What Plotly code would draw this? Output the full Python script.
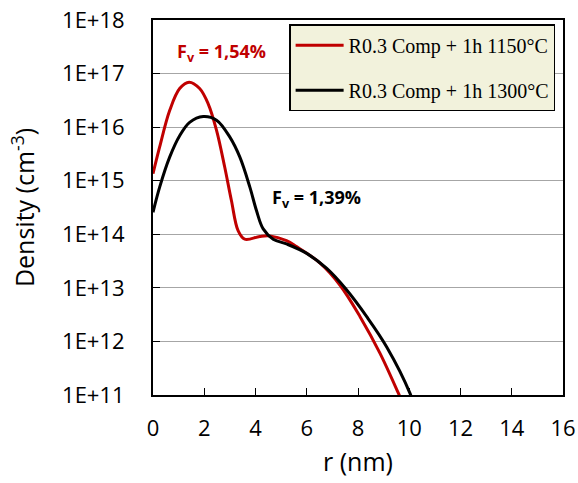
import plotly.graph_objects as go

# Data (r in nm, density in cm^-3)
r_1150 = [0, 0.26, 0.65, 1.04, 1.41, 1.82, 2.15, 2.48, 2.80, 3.06, 3.32, 3.58,
          4.17, 4.56, 5.21, 5.6, 6.52, 7.3, 8.08, 8.86, 9.58, 9.7]
d_1150 = [1.35e15, 4.27e15, 2.04e16, 5.25e16, 6.92e16, 5.25e16, 2.75e16, 8.7e15,
          1.78e15, 4.27e14, 1.17e14, 8.1e13, 9.1e13, 9.3e13, 7.6e13, 5.9e13,
          2.9e13, 1.12e13, 2.9e12, 6.0e11, 1.07e11, 7.9e10]

r_1300 = [0, 0.26, 0.65, 1.04, 1.43, 1.96, 2.48, 3.0, 3.39, 3.78, 4.04, 4.30,
          4.69, 5.21, 6.0, 6.78, 7.56, 8.34, 9.12, 10.03, 10.15]
d_1300 = [2.57e14, 7.6e14, 2.75e15, 6.9e15, 1.23e16, 1.58e16, 1.35e16, 6.5e15,
          2.75e15, 7.6e14, 2.75e14, 1.26e14, 8.1e13, 6.6e13, 4.4e13, 2.3e13,
          9.1e12, 2.9e12, 7.9e11, 1.07e11, 7.1e10]

names = ["R0.3 Comp + 1h 1150°C", "R0.3 Comp + 1h 1300°C"]
colors = ["#C00000", "#000000"]

y_tickvals = [1e11, 1e12, 1e13, 1e14, 1e15, 1e16, 1e17, 1e18]
y_ticktext = ["1E+11", "1E+12", "1E+13", "1E+14", "1E+15", "1E+16", "1E+17", "1E+18"]
x_tickvals = [0, 2, 4, 6, 8, 10, 12, 14, 16]

# annotation positions: x in nm, y as log10(density) (log axis convention)
labels = [("F<sub>v</sub> = 1,54%", 2.67, 17.40, "#C00000"),
          ("F<sub>v</sub> = 1,39%", 6.39, 14.66, "#000000")]

fig = go.Figure()
for i, (rr, dd) in enumerate([(r_1150, d_1150), (r_1300, d_1300)]):
    fig.add_trace(go.Scatter(x=rr, y=dd, mode="lines", name=names[i],
                             legendgroup=str(i),
                             line=dict(color=colors[i], width=3, shape="spline", smoothing=1.0)))

for text, x, y, c in labels:
    fig.add_annotation(x=x, y=y, text="<b>" + text + "</b>", showarrow=False,
                       font=dict(family="Open Sans", size=18, color=c))

fig.update_layout(
    width=578, height=483,
    margin=dict(l=153, r=15, t=20, b=88),
    paper_bgcolor="white", plot_bgcolor="white",
    font=dict(family="Open Sans", size=22, color="black"),
    showlegend=True,
    legend=dict(x=0.332, y=0.989, xanchor="left", yanchor="top",
                bgcolor="#F2F2DC", bordercolor="black", borderwidth=1.5,
                font=dict(family="Liberation Serif", size=20, color="black"),
                traceorder="grouped", tracegroupgap=16, itemwidth=48),
)
fig.update_xaxes(range=[0, 16], tickvals=x_tickvals, ticks="inside", ticklen=7,
                 tickcolor="black", tickwidth=1, showline=True, linecolor="black",
                 linewidth=1.5, mirror=True, showgrid=False, zeroline=False,
                 ticklabelstandoff=13, automargin=False,
                 title=dict(text="r (nm)", font=dict(size=25), standoff=12))
fig.update_yaxes(type="log", range=[11, 18], tickvals=y_tickvals, ticktext=y_ticktext,
                 ticks="inside", ticklen=7, tickcolor="black", tickwidth=1,
                 showline=True, linecolor="black", linewidth=2, mirror=True,
                 showgrid=True, gridcolor="#A6A6A6", gridwidth=1, zeroline=False,
                 ticklabelstandoff=22, automargin=False,
                 title=dict(text="Density (cm<sup>-3</sup>)", font=dict(size=25), standoff=20))

fig.write_html("out.html")
